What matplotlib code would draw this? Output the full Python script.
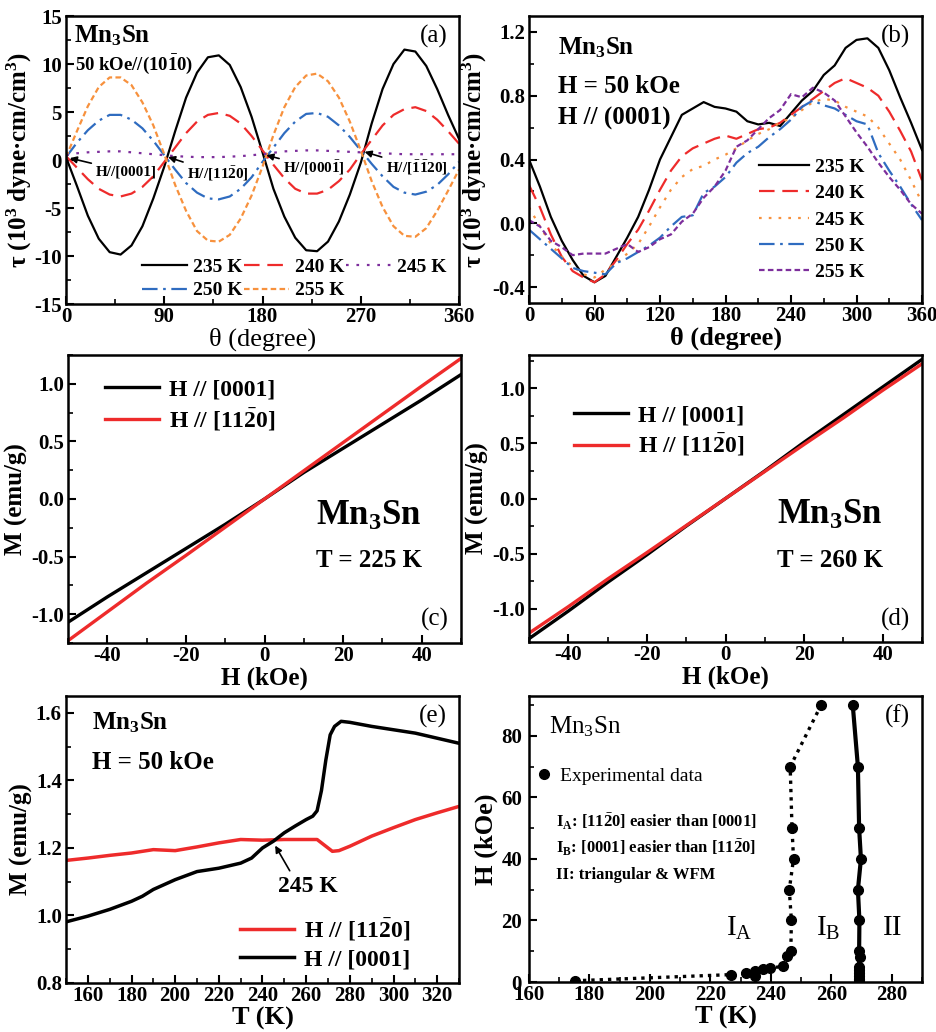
import numpy as np
import matplotlib.pyplot as plt
from matplotlib.ticker import MultipleLocator
from matplotlib.lines import Line2D

plt.rcParams['font.family'] = ['Liberation Serif', 'DejaVu Serif']
plt.rcParams['font.weight'] = 'bold'
plt.rcParams['axes.labelweight'] = 'bold'
plt.rcParams['axes.unicode_minus'] = False
plt.rcParams['mathtext.default'] = 'regular'
plt.rcParams['axes.linewidth'] = 1.8
plt.rcParams['xtick.direction'] = 'in'
plt.rcParams['ytick.direction'] = 'in'
plt.rcParams['xtick.major.size'] = 6
plt.rcParams['ytick.major.size'] = 6
plt.rcParams['xtick.minor.size'] = 3.5
plt.rcParams['ytick.minor.size'] = 3.5
plt.rcParams['xtick.major.width'] = 1.5
plt.rcParams['ytick.major.width'] = 1.5
plt.rcParams['xtick.minor.width'] = 1.2
plt.rcParams['ytick.minor.width'] = 1.2
plt.rcParams['xtick.major.pad'] = 2.5
plt.rcParams['ytick.major.pad'] = 3

# ---------------- (a) torque, H // (10-10) ----------------
theta_a = [0, 10, 20, 30, 40, 50, 60, 70, 80, 90, 100, 110, 120, 130, 140, 150, 160, 170, 180,
           190, 200, 210, 220, 230, 240, 250, 260, 270, 280, 290, 300, 310, 320, 330, 340, 350, 360]
tau_a_235 = [0.3, -2.7, -5.8, -8.2, -9.6, -9.85, -8.9, -6.9, -4.0, -0.7, 3.0, 6.5, 9.1, 10.7, 10.9, 9.9, 7.6, 4.5, 0.8,
             -3.0, -5.9, -8.1, -9.4, -9.5, -8.5, -6.4, -3.6, -0.3, 3.8, 7.4, 10.0, 11.5, 11.3, 9.8, 7.4, 4.7, 2.2]
tau_a_240 = [0.4, -0.8, -2.0, -3.0, -3.6, -3.8, -3.5, -2.8, -1.7, -0.2, 1.3, 2.8, 4.0, 4.7, 4.9, 4.6, 3.8, 2.5, 1.0,
             -0.5, -1.9, -3.0, -3.5, -3.5, -3.1, -2.2, -1.0, 0.6, 2.1, 3.6, 4.7, 5.3, 5.5, 5.1, 4.2, 3.0, 1.7]
tau_a_245 = [0.5, 0.7, 0.8, 0.85, 0.9, 0.9, 0.8, 0.7, 0.6, 0.5, 0.4, 0.35, 0.3, 0.3, 0.3, 0.35, 0.4, 0.5, 0.6,
             0.75, 0.9, 0.95, 1.0, 1.0, 0.95, 0.9, 0.85, 0.8, 0.75, 0.7, 0.65, 0.6, 0.6, 0.6, 0.6, 0.6, 0.6]
tau_a_250 = [0.3, 1.8, 3.1, 4.1, 4.7, 4.7, 4.2, 3.3, 2.0, 0.5, -1.0, -2.4, -3.4, -4.0, -4.1, -3.8, -3.0, -1.8, -0.2,
             1.3, 2.8, 4.0, 4.8, 4.9, 4.5, 3.6, 2.4, 1.0, -0.4, -1.7, -2.8, -3.4, -3.6, -3.3, -2.6, -1.5, -0.2]
tau_a_255 = [0.3, 3.0, 5.6, 7.6, 8.6, 8.6, 7.8, 6.0, 3.6, 0.6, -2.6, -5.3, -7.4, -8.4, -8.5, -7.8, -6.1, -3.7, -0.7,
             2.6, 5.5, 7.6, 8.8, 9.0, 8.2, 6.5, 4.0, 1.0, -2.2, -4.9, -6.9, -7.9, -8.0, -7.1, -5.3, -3.2, -1.0]

# ---------------- (b) torque, H // (0001) ----------------
theta_b = theta_a
tau_b_235 = [0.40, 0.23, 0.04, -0.11, -0.23, -0.33, -0.37, -0.33, -0.21, -0.09, 0.04, 0.21, 0.40, 0.54, 0.68, 0.72,
             0.76, 0.73, 0.72, 0.70, 0.64, 0.62, 0.63, 0.61, 0.69, 0.77, 0.83, 0.93, 0.99, 1.10, 1.15, 1.16, 1.10,
             0.96, 0.79, 0.63, 0.46]
tau_b_240 = [0.24, 0.10, -0.07, -0.21, -0.30, -0.34, -0.37, -0.32, -0.23, -0.13, -0.04, 0.08, 0.21, 0.33, 0.42, 0.47,
             0.50, 0.53, 0.55, 0.53, 0.56, 0.59, 0.60, 0.63, 0.68, 0.73, 0.78, 0.83, 0.88, 0.91, 0.88, 0.85, 0.80,
             0.70, 0.58, 0.45, 0.27]
tau_b_245 = [0.10, -0.02, -0.13, -0.21, -0.27, -0.32, -0.34, -0.29, -0.25, -0.19, -0.13, -0.02, 0.10, 0.21, 0.29, 0.34,
             0.36, 0.40, 0.43, 0.47, 0.52, 0.56, 0.59, 0.63, 0.66, 0.71, 0.76, 0.78, 0.77, 0.73, 0.70, 0.67, 0.60,
             0.50, 0.40, 0.27, 0.13]
tau_b_250 = [-0.04, -0.10, -0.16, -0.22, -0.28, -0.30, -0.31, -0.32, -0.25, -0.22, -0.18, -0.14, -0.09, -0.02, 0.04,
             0.05, 0.19, 0.23, 0.29, 0.38, 0.44, 0.48, 0.54, 0.59, 0.65, 0.73, 0.77, 0.74, 0.72, 0.68, 0.64, 0.62,
             0.44, 0.33, 0.23, 0.12, 0.02]
tau_b_255 = [0.02, -0.02, -0.11, -0.15, -0.20, -0.19, -0.19, -0.19, -0.16, -0.13, -0.18, -0.15, -0.10, -0.07, 0.01,
             0.06, 0.16, 0.23, 0.33, 0.48, 0.52, 0.59, 0.66, 0.71, 0.81, 0.79, 0.85, 0.82, 0.77, 0.67, 0.57, 0.48,
             0.38, 0.29, 0.21, 0.12, 0.06]

# ---------------- (c), (d) M-H loops ----------------
H_field = [-50, -40, -30, -20, -10, 0, 10, 20, 30, 40, 50]
M_c_0001 = [-1.07, -0.85, -0.64, -0.43, -0.22, 0.0, 0.23, 0.44, 0.65, 0.86, 1.08]
M_c_1120 = [-1.23, -0.98, -0.73, -0.49, -0.245, 0.0, 0.245, 0.49, 0.735, 0.98, 1.22]
M_d_0001 = [-1.27, -1.02, -0.76, -0.51, -0.25, 0.0, 0.25, 0.51, 0.76, 1.01, 1.26]
M_d_1120 = [-1.22, -0.98, -0.73, -0.49, -0.245, 0.0, 0.245, 0.49, 0.73, 0.98, 1.22]

# ---------------- (e) M-T at 50 kOe ----------------
T_e_1120 = [150, 160, 170, 180, 190, 200, 210, 220, 230, 240, 250, 260, 265, 268, 272, 275, 280, 290, 300, 310, 320, 330]
M_e_1120 = [1.163, 1.17, 1.178, 1.185, 1.195, 1.192, 1.203, 1.215, 1.225, 1.223, 1.225, 1.225, 1.225, 1.21, 1.19,
            1.192, 1.205, 1.235, 1.26, 1.284, 1.304, 1.323]
T_e_0001 = [150, 160, 170, 180, 185, 190, 200, 210, 220, 230, 235, 240, 245, 250, 255, 260, 263, 265, 267, 269, 271,
            273, 276, 280, 290, 300, 310, 320, 330]
M_e_0001 = [0.981, 0.998, 1.018, 1.042, 1.057, 1.077, 1.106, 1.13, 1.14, 1.155, 1.17, 1.20, 1.22, 1.245, 1.265, 1.284,
            1.294, 1.31, 1.37, 1.46, 1.535, 1.56, 1.575, 1.572, 1.56, 1.55, 1.54, 1.525, 1.51]

# ---------------- (f) phase diagram ----------------
T_IA_IB = [175.1, 226.8, 231.9, 234.6, 234.6, 237.3, 239.8, 243.9, 245.5, 246.6, 246.8, 246.1, 247.5, 247.0, 246.4, 256.6]
H_IA_IB = [0.4, 2.4, 2.9, 1.8, 3.7, 4.3, 4.5, 5.1, 8.3, 10, 20, 30, 40, 50, 70, 90]
T_IB_II = [269.0, 269.0, 269.0, 269.0, 269.0, 269.0, 269.5, 269.2, 269.3, 268.8, 269.8, 269.2, 268.8, 267.1]
H_IB_II = [0.5, 1, 2, 3, 4, 5, 8, 10, 20, 30, 40, 50, 70, 90]

c_red = '#ee2b2b'
c_orange = '#f7913d'
c_blue = '#2f6cc0'
c_purple = '#7d2e9c'

fig = plt.figure(figsize=(9.36, 10.32), dpi=100)
W, Hh = 936.0, 1032.0


def box(l, t, r, b):
    return [l / W, 1 - b / Hh, (r - l) / W, (b - t) / Hh]


def style(ax):
    ax.tick_params(which='both', top=False, right=False, labelsize=15)


# (a)
ax = fig.add_axes(box(66, 16, 459, 304))
ax.plot(theta_a, tau_a_235, color='k', lw=1.6, label='235 K')
ax.plot(theta_a, tau_a_250, color=c_blue, lw=1.6, dashes=(7, 2.5, 1.2, 2.5), label='250 K')
ax.plot(theta_a, tau_a_240, color=c_red, lw=1.6, dashes=(7, 3.5), label='240 K')
ax.plot(theta_a, tau_a_255, color=c_orange, lw=1.6, dashes=(2.5, 1.5), label='255 K')
ax.plot(theta_a, tau_a_245, color=c_purple, lw=1.6, dashes=(1.2, 3.5), label='245 K')
ax.set_xlim(0, 360)
ax.set_ylim(-15, 15)
ax.xaxis.set_major_locator(MultipleLocator(90))
ax.xaxis.set_minor_locator(MultipleLocator(45))
ax.yaxis.set_major_locator(MultipleLocator(5))
ax.yaxis.set_minor_locator(MultipleLocator(2.5))
style(ax)
ax.set_xlabel('θ (degree)', fontsize=19, fontweight='normal', labelpad=0)
ax.set_ylabel('τ (10$^3$ dyne·cm/cm$^3$)', fontsize=18, labelpad=0)
ax.legend(loc='lower left', bbox_to_anchor=(0.15, -0.045), ncol=3, frameon=False, fontsize=14,
          handlelength=2.3, handletextpad=0.3, columnspacing=0.1, labelspacing=0.3)
ax.text(0.02, 0.975, 'Mn$_3$Sn', transform=ax.transAxes, fontsize=18, va='top')
ax.text(8, 10.0, '50 kOe//(10$\\bar{1}$0)', fontsize=13.5, va='center')
ax.text(0.97, 0.97, '(a)', transform=ax.transAxes, fontsize=18, fontweight='normal', ha='right', va='top')
arrow = dict(arrowstyle='-|>', color='k', lw=1.2, mutation_scale=10, shrinkA=1, shrinkB=0)
ax.annotate('H//[0001]', xy=(3.5, 0.2), xytext=(27, -1.2), fontsize=11, va='center', arrowprops=arrow)
ax.annotate('H//[11$\\bar{2}$0]', xy=(93.5, 0.3), xytext=(111, -1.4), fontsize=11, va='center', arrowprops=arrow)
ax.annotate('H//[000$\\bar{1}$]', xy=(183.5, 0.5), xytext=(199, -0.8), fontsize=11, va='center', arrowprops=arrow)
ax.annotate('H//[$\\bar{1}\\bar{1}$20]', xy=(273.5, 0.85), xytext=(293, -0.8), fontsize=11, va='center',
            arrowprops=arrow)

# (b)
ax = fig.add_axes(box(529, 16, 922, 303))
ax.plot(theta_b, tau_b_235, color='k', lw=1.6, label='235 K')
ax.plot(theta_b, tau_b_240, color=c_red, lw=1.6, dashes=(7, 3.5), label='240 K')
ax.plot(theta_b, tau_b_245, color=c_orange, lw=1.6, dashes=(1.2, 3.2), label='245 K')
ax.plot(theta_b, tau_b_250, color=c_blue, lw=1.6, dashes=(7, 2.5, 1.2, 2.5), label='250 K')
ax.plot(theta_b, tau_b_255, color=c_purple, lw=1.6, dashes=(2.5, 1.5), label='255 K')
ax.set_xlim(0, 360)
ax.set_ylim(-0.5, 1.3)
ax.xaxis.set_major_locator(MultipleLocator(60))
ax.xaxis.set_minor_locator(MultipleLocator(30))
ax.yaxis.set_major_locator(MultipleLocator(0.4))
ax.yaxis.set_minor_locator(MultipleLocator(0.2))
ax.yaxis.set_major_formatter(plt.FormatStrFormatter('%.1f'))
style(ax)
ax.set_xlabel('θ (degree)', fontsize=19, labelpad=0)
ax.set_ylabel('τ (10$^3$ dyne·cm/cm$^3$)', fontsize=18, labelpad=2)
ax.legend(loc='center left', bbox_to_anchor=(0.54, 0.29), frameon=False, fontsize=14,
          handlelength=2.6, handletextpad=0.3, labelspacing=0.45)
ax.text(27, 1.10, 'Mn$_3$Sn', fontsize=18, va='center')
ax.text(27, 0.86, 'H = 50 kOe', fontsize=18, va='center')
ax.text(27, 0.66, 'H // (0001)', fontsize=18, va='center')
ax.text(0.97, 0.97, '(b)', transform=ax.transAxes, fontsize=18, fontweight='normal', ha='right', va='top')

# (c) and (d)
for pos, m0001, m1120, temp, letter, anchor in [
        ((68, 355, 461, 643), M_c_0001, M_c_1120, 'T = 225 K', '(c)', (0.04, 0.99)),
        ((529, 355, 922, 642), M_d_0001, M_d_1120, 'T = 260 K', '(d)', (0.06, 0.90))]:
    ax = fig.add_axes(box(*pos))
    ax.plot(H_field, m0001, color='k', lw=2.4, label='H // [0001]')
    ax.plot(H_field, m1120, color=c_red, lw=2.4, label='H // [11$\\bar{2}$0]')
    ax.set_xlim(-50, 50)
    lim = 1.25 if letter == '(c)' else 1.3
    ax.set_ylim(-lim, lim)
    ax.xaxis.set_major_locator(MultipleLocator(20))
    ax.xaxis.set_minor_locator(MultipleLocator(10))
    ax.yaxis.set_major_locator(MultipleLocator(0.5))
    ax.yaxis.set_minor_locator(MultipleLocator(0.25))
    ax.yaxis.set_major_formatter(plt.FormatStrFormatter('%.1f'))
    style(ax)
    ax.set_xlabel('H (kOe)', fontsize=18, labelpad=0)
    ax.set_ylabel('M (emu/g)', fontsize=18, labelpad=2)
    ax.legend(loc='upper left', bbox_to_anchor=anchor, frameon=False, fontsize=17,
              handlelength=2.3, handletextpad=0.4, labelspacing=0.25)
    ax.text(0.63, 0.44, 'Mn$_3$Sn', transform=ax.transAxes, fontsize=25, va='center')
    ax.text(0.63, 0.285, temp, transform=ax.transAxes, fontsize=18, va='center')
    ax.text(0.97, 0.04, letter, transform=ax.transAxes, fontsize=18, fontweight='normal', ha='right', va='bottom')

# (e)
ax = fig.add_axes(box(66, 696, 459, 983))
ax.plot(T_e_1120, M_e_1120, color=c_red, lw=2.5, label='H // [11$\\bar{2}$0]')
ax.plot(T_e_0001, M_e_0001, color='k', lw=2.5, label='H // [0001]')
ax.set_xlim(150, 330)
ax.set_ylim(0.8, 1.65)
ax.xaxis.set_major_locator(MultipleLocator(20))
ax.xaxis.set_minor_locator(MultipleLocator(10))
ax.yaxis.set_major_locator(MultipleLocator(0.2))
ax.yaxis.set_minor_locator(MultipleLocator(0.1))
ax.yaxis.set_major_formatter(plt.FormatStrFormatter('%.1f'))
style(ax)
ax.set_xlabel('T (K)', fontsize=19, labelpad=0)
ax.set_ylabel('M (emu/g)', fontsize=18, labelpad=2)
ax.legend(loc='lower right', bbox_to_anchor=(0.93, -0.03), frameon=False, fontsize=17,
          handlelength=2.3, handletextpad=0.4, labelspacing=0.25)
ax.text(161.7, 1.57, 'Mn$_3$Sn', fontsize=18, va='center')
ax.text(161.7, 1.452, 'H = 50 kOe', fontsize=18, va='center')
ax.annotate('245 K', xy=(245.8, 1.207), xytext=(247, 1.086), fontsize=17, ha='left', va='center',
            arrowprops=dict(arrowstyle='-|>', color='k', lw=1.2, mutation_scale=10, shrinkA=2, shrinkB=0,
                            relpos=(0.25, 1.0)))
ax.text(0.97, 0.97, '(e)', transform=ax.transAxes, fontsize=18, fontweight='normal', ha='right', va='top')

# (f)
ax = fig.add_axes(box(529, 696, 922, 982))
ax.plot(T_IA_IB, H_IA_IB, color='k', lw=2.4, ls=(0, (1, 1.5)), marker='o', ms=7)
ax.plot(T_IB_II, H_IB_II, color='k', lw=3.0, ls='-', marker='o', ms=7)
ax.set_xlim(160, 290)
ax.set_ylim(0, 93)
ax.xaxis.set_major_locator(MultipleLocator(20))
ax.xaxis.set_minor_locator(MultipleLocator(10))
ax.yaxis.set_major_locator(MultipleLocator(20))
ax.yaxis.set_minor_locator(MultipleLocator(10))
style(ax)
ax.tick_params(axis='y', which='major', pad=5)
ax.set_xlabel('T (K)', fontsize=19, labelpad=0)
ax.set_ylabel('H (kOe)', fontsize=19, labelpad=2)
handle = Line2D([], [], color='k', marker='o', ls='none', ms=7)
ax.legend([handle], ['Experimental data'], loc='center left', bbox_to_anchor=(-0.025, 0.72), frameon=False,
          prop=dict(size=14, weight='normal'), handlelength=0.8, handletextpad=0.4)
ax.text(166.5, 83, 'Mn$_3$Sn', fontsize=18, fontweight='normal', va='center')
ax.text(169, 52.2, 'I$_A$: [11$\\bar{2}$0] easier than [0001]', fontsize=12, va='center')
ax.text(169, 43.5, 'I$_B$: [0001] easier than [11$\\bar{2}$0]', fontsize=12, va='center')
ax.text(169, 34.9, 'II: triangular & WFM', fontsize=12, va='center')
ax.text(225, 17.5, 'I$_A$', fontsize=21, fontweight='normal', va='center')
ax.text(255, 17.5, 'I$_B$', fontsize=21, fontweight='normal', va='center')
ax.text(277, 17.5, 'II', fontsize=21, fontweight='normal', va='center')
ax.text(0.97, 0.97, '(f)', transform=ax.transAxes, fontsize=18, fontweight='normal', ha='right', va='top')

fig.savefig('out.png', dpi=100)
